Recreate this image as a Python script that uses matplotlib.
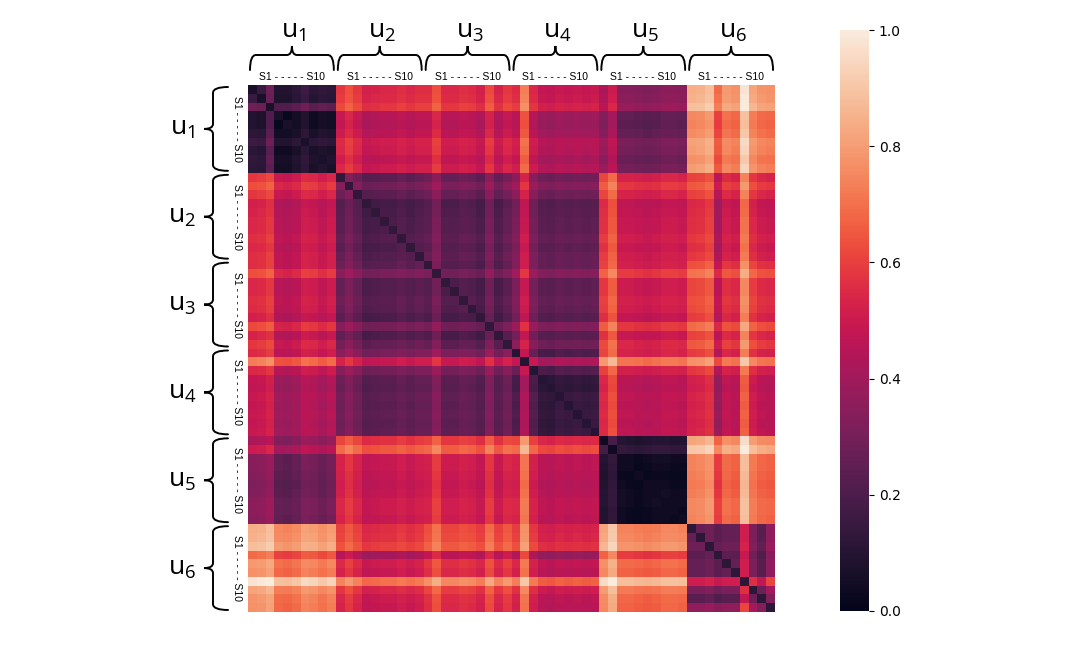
import numpy as np
import matplotlib
matplotlib.use('Agg')
import matplotlib.pyplot as plt
import seaborn as sns
from matplotlib.path import Path
from matplotlib.patches import PathPatch

# users and samples
users = ['1', '2', '3', '4', '5', '6']
n_samples = 10

# block level distances (diagonal = within-user level)
block_level = [
    [0.12, 0.52, 0.52, 0.47, 0.32, 0.78],
    [0.52, 0.24, 0.26, 0.29, 0.53, 0.56],
    [0.52, 0.26, 0.24, 0.29, 0.54, 0.61],
    [0.47, 0.29, 0.29, 0.20, 0.51, 0.53],
    [0.32, 0.53, 0.54, 0.51, 0.07, 0.74],
    [0.78, 0.56, 0.61, 0.53, 0.74, 0.26],
]
# value on the diagonal of each user block
self_level = [0.07, 0.13, 0.13, 0.10, 0.04, 0.12]

# per-sample shift against other users' samples
shift_between = [
    0.04, 0.05, 0.08, -0.05, -0.06, -0.04, 0.01, 0.00, -0.03, 0.00,
    0.02, 0.07, 0.02, -0.04, -0.03, -0.02, -0.02, 0.00, -0.02, 0.00,
    0.00, 0.07, -0.02, -0.02, 0.00, -0.01, -0.04, 0.06, -0.03, 0.02,
    0.04, 0.22, 0.03, -0.03, -0.04, -0.02, -0.03, -0.02, -0.03, -0.02,
    0.06, 0.14, -0.02, -0.02, -0.03, -0.04, -0.03, -0.01, -0.01, -0.02,
    0.02, 0.03, 0.06, -0.13, -0.03, -0.05, 0.16, 0.00, -0.04, -0.05,
]
# per-sample shift against the same user's samples
shift_within = [
    0.02, 0.01, 0.14, -0.05, -0.05, -0.02, 0.02, -0.03, -0.01, -0.02,
    0.02, 0.07, 0.02, -0.04, -0.03, -0.02, -0.02, 0.00, -0.02, 0.00,
    0.00, 0.07, -0.02, -0.02, 0.00, -0.01, -0.04, 0.06, -0.03, 0.02,
    0.03, 0.25, 0.04, -0.04, -0.05, -0.02, -0.03, -0.02, -0.03, -0.02,
    0.04, 0.08, -0.01, -0.02, -0.03, -0.02, -0.01, -0.01, -0.02, -0.02,
    0.00, 0.00, 0.02, -0.02, 0.00, 0.00, 0.25, 0.05, -0.03, 0.10,
]

n = len(users) * n_samples
dist = np.zeros((n, n))
for i in range(n):
    for j in range(n):
        ui, uj = i // n_samples, j // n_samples
        if i == j:
            dist[i, j] = self_level[ui]
        elif ui == uj:
            dist[i, j] = block_level[ui][uj] + shift_within[i] + shift_within[j]
        else:
            dist[i, j] = block_level[ui][uj] + shift_between[i] + shift_between[j]
dist = np.clip(dist, 0, 1)

plt.rcParams['mathtext.fontset'] = 'custom'
plt.rcParams['mathtext.rm'] = 'Open Sans'

W, H = 1076, 656
fig = plt.figure(figsize=(W / 100, H / 100), dpi=100)
ax = fig.add_axes([248 / W, 1 - 612 / H, 527 / W, 527 / H])
cax = fig.add_axes([840 / W, 1 - 611 / H, 29 / W, 581 / H])

sns.heatmap(dist, ax=ax, cbar_ax=cax, cmap='rocket', vmin=0, vmax=1,
            xticklabels=False, yticklabels=False)
cax.tick_params(labelsize=10, length=3.5, width=0.8)

over = fig.add_axes([0, 0, 1, 1])
over.set_xlim(0, W)
over.set_ylim(0, H)
over.axis('off')


def brace(p0, p1, normal, b=15, tp=9, r=6, r2=5):
    p0 = np.array(p0, float)
    p1 = np.array(p1, float)
    L = np.linalg.norm(p1 - p0)
    u = (p1 - p0) / L
    nv = np.array(normal, float)
    pts = [(0, 0), (0, b), (r, b), (L / 2 - r2, b), (L / 2, b), (L / 2, b + tp),
           (L / 2, b), (L / 2 + r2, b), (L - r, b), (L, b), (L, 0)]
    verts = [p0 + t * u + s * nv for t, s in pts]
    codes = [Path.MOVETO, Path.CURVE3, Path.CURVE3, Path.LINETO, Path.CURVE3,
             Path.CURVE3, Path.CURVE3, Path.CURVE3, Path.LINETO, Path.CURVE3,
             Path.CURVE3]
    over.add_patch(PathPatch(Path(verts, codes), fill=False, lw=1.4,
                             edgecolor='black', capstyle='round'))


top = ax.transData.transform((0, 0))[1]
left = ax.transData.transform((0, 0))[0]
inset = 2
s_text = 'S1 - - - - - S10'
for k, u in enumerate(users):
    xa = ax.transData.transform((k * n_samples, 0))[0]
    xb = ax.transData.transform(((k + 1) * n_samples, 0))[0]
    ya = ax.transData.transform((0, k * n_samples))[1]
    yb = ax.transData.transform((0, (k + 1) * n_samples))[1]
    xc, yc = (xa + xb) / 2, (ya + yb) / 2

    # top
    brace((xa + inset, top + 15), (xb - inset, top + 15), (0, 1))
    over.text(xc, top + 8, s_text, ha='center', va='center', fontsize=7.5,
              family='Liberation Sans')
    over.text(xc + 2, top + 53, r'u$_{\mathrm{%s}}$' % u, ha='center', va='center',
              fontsize=19, family='Open Sans')

    # left
    brace((left - 20, ya - inset), (left - 20, yb + inset), (-1, 0))
    over.text(left - 11, yc, s_text, ha='center', va='center', fontsize=7.5,
              rotation=-90, family='Liberation Sans')
    over.text(left - 66, yc, r'u$_{\mathrm{%s}}$' % u, ha='center', va='center',
              fontsize=19, family='Open Sans')

fig.savefig('out.png', dpi=100)
